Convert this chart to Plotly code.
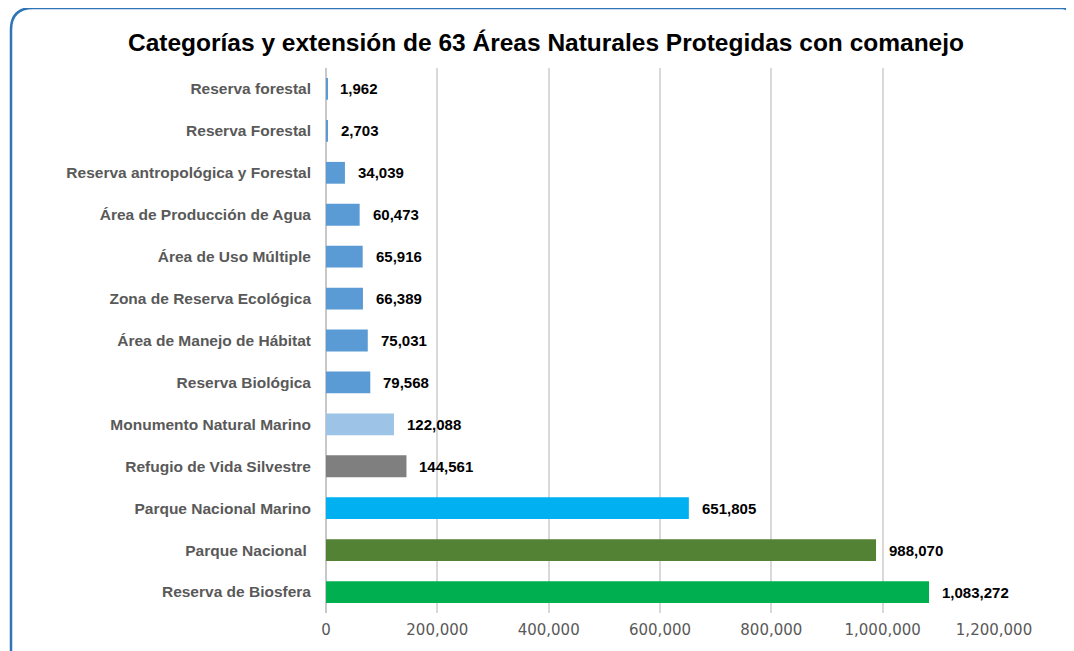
import plotly.graph_objects as go

categories = ["Reserva forestal", "Reserva Forestal", "Reserva antropológica y Forestal",
              "Área de Producción de Agua", "Área de Uso Múltiple", "Zona de Reserva Ecológica",
              "Área de Manejo de Hábitat", "Reserva Biológica", "Monumento Natural Marino",
              "Refugio de Vida Silvestre", "Parque Nacional Marino", "Parque Nacional ",
              "Reserva de Biosfera"]
values = [1962, 2703, 34039, 60473, 65916, 66389, 75031, 79568, 122088, 144561, 651805, 988070, 1083272]
colors = ["#5B9BD5"] * 8 + ["#9DC3E6", "#7F7F7F", "#00B0F0", "#548235", "#00B050"]
tick_vals = [0, 200000, 400000, 600000, 800000, 1000000, 1200000]
tick_text = ["0", "200,000", "400,000", "600,000", "800,000", "1,000,000", "1,200,000"]
title = "Categorías y extensión de 63 Áreas Naturales Protegidas con comanejo"

W, H = 1066, 643
L, R, T, B = 318, 80, 60, 38
PW, PH = W - L - R, H - T - B

fig = go.Figure(go.Bar(
    y=categories, x=values, orientation="h",
    marker=dict(color=colors, line=dict(width=0)),
    width=0.52,
    cliponaxis=False,
    hoverinfo="x+y",
))

for c, v in zip(categories, values):
    fig.add_annotation(x=v, y=c, xref="x", yref="y", text=f"<b>{v:,}</b>", showarrow=False,
                       xanchor="left", xshift=11,
                       font=dict(family="Liberation Sans, Arial", size=15, color="#000000"))

fig.update_layout(
    width=W, height=H,
    paper_bgcolor="white", plot_bgcolor="white",
    margin=dict(l=L, r=R, t=T, b=B, autoexpand=False),
    showlegend=False,
    title=dict(text="<b>" + title + "</b>", x=(546 - 8) / W, xref="container", xanchor="center",
               y=1 - (42 - 8) / H, yref="container", yanchor="middle",
               font=dict(family="Liberation Sans, Arial", size=24.5, color="#000000")),
    xaxis=dict(range=[0, 1200000], tickvals=tick_vals, ticktext=tick_text,
               showgrid=True, gridcolor="#D9D9D9", gridwidth=2, zeroline=True,
               zerolinecolor="#C8C8C8", zerolinewidth=2, ticklabelstandoff=6,
               tickfont=dict(family="DejaVu Sans, Verdana", size=15, color="#595959")),
    yaxis=dict(autorange="reversed", ticks="", ticklabelstandoff=14,
               tickfont=dict(family="Liberation Sans, Arial", size=15.5, color="#595959"),
               showgrid=False),
)
fig.update_yaxes(tickprefix="<b>", ticksuffix="</b>")


def px(x):
    return (x - 8 - L) / PW


def py(y):
    return 1 - (y - 8 - T) / PH


path = (f"M {px(11)} {py(700)} L {px(11)} {py(30)} Q {px(11)} {py(8)} {px(33)} {py(8)} "
        f"L {px(1062)} {py(8)} Q {px(1068)} {py(8)} {px(1070)} {py(14)}")
fig.add_shape(type="path", xref="paper", yref="paper", path=path,
              line=dict(color="#2E75B6", width=2.5), layer="below")

fig.write_html("out.html")
